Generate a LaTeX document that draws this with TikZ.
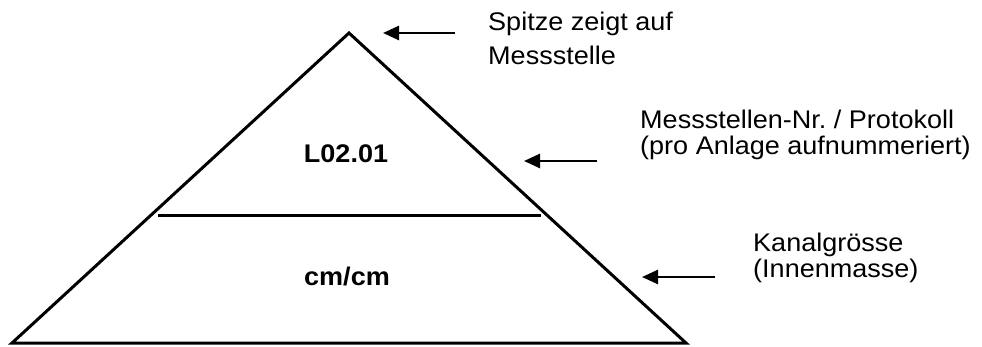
\documentclass[tikz,border=0pt]{standalone}
\usepackage{fontspec}
\setmainfont{Liberation Sans}[FakeStretch=1.06]
\usetikzlibrary{arrows.meta}
\frenchspacing
\begin{document}
\begin{tikzpicture}[x=1pt,y=-1pt,
  shape line/.style={line width=3pt, line join=miter},
  pointer/.style={line width=2.6pt, -{Triangle[length=16pt,width=14pt]}},
  note/.style={anchor=base west, inner sep=0pt, align=left, font=\fontsize{25.5}{26.5}\selectfont},
  tag/.style={anchor=base, inner sep=0pt, font=\fontsize{25.5}{26.5}\selectfont\bfseries}]
\useasboundingbox (0,0) rectangle (982,347);
\coordinate (apex) at (349,33);
\coordinate (bl) at (12,343);
\coordinate (br) at (686,343);
\coordinate (ml) at (158,216);
\coordinate (mr) at (541,216);
\draw[shape line] (bl) -- (apex) -- (br) -- cycle;
\draw[shape line] (ml) -- (mr);
\node[tag] (lab1) at (346,163) {L02.01};
\node[tag] (lab2) at (347,286) {cm/cm};
\coordinate (a1t) at (455,33);
\coordinate (a1h) at (383,33);
\coordinate (a2t) at (597,161);
\coordinate (a2h) at (524,161);
\coordinate (a3t) at (715,277);
\coordinate (a3h) at (642,277);
\draw[pointer] (a1t) -- (a1h);
\draw[pointer] (a2t) -- (a2h);
\draw[pointer] (a3t) -- (a3h);
\node[note] (t1a) at (488,31) {Spitze zeigt auf};
\node[note] (t1b) at (488,65) {Messstelle};
\node[note] (t2) at (640,155) {Messstellen-Nr.\ / Protokoll\\(pro Anlage aufnummeriert)};
\node[note] (t3) at (753,278) {Kanalgrösse\\(Innenmasse)};
\end{tikzpicture}
\end{document}
